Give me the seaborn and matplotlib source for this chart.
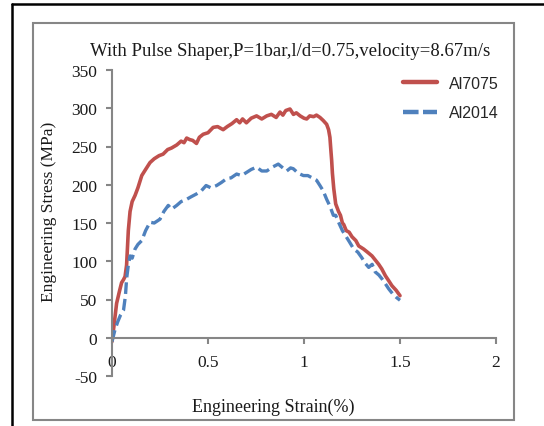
import matplotlib
matplotlib.use("Agg")
import matplotlib.pyplot as plt
import seaborn as sns
import pandas as pd
from matplotlib.lines import Line2D
from matplotlib.patches import Rectangle

# ---- data ----
al7075_strain = [0, 0.01, 0.024, 0.04, 0.05, 0.06, 0.068, 0.076, 0.085, 0.094, 0.105, 0.12, 0.135, 0.155,
                 0.175, 0.198, 0.22, 0.245, 0.266, 0.29, 0.31, 0.337, 0.36, 0.375, 0.389, 0.405, 0.42, 0.44,
                 0.455, 0.475, 0.5, 0.527, 0.55, 0.579, 0.6, 0.625, 0.649, 0.665, 0.68, 0.70, 0.725, 0.753,
                 0.78, 0.806, 0.83, 0.855, 0.875, 0.89, 0.905, 0.927, 0.945, 0.96, 0.98, 1.0, 1.014, 1.03,
                 1.05, 1.065, 1.083, 1.1, 1.118, 1.128, 1.135, 1.14, 1.144, 1.148, 1.155, 1.165, 1.18, 1.19,
                 1.2, 1.207, 1.22, 1.235, 1.25, 1.27, 1.285, 1.31, 1.33, 1.354, 1.37, 1.389, 1.405, 1.424,
                 1.44, 1.458, 1.48, 1.50]
al7075_stress = [-5, 15, 45, 62, 72, 76, 80, 95, 140, 165, 178, 186, 196, 212,
                 220, 229, 234, 238, 240, 246, 248, 252, 257, 255, 261, 259, 258, 254,
                 262, 266, 268, 275, 276, 272, 276, 280, 285, 281, 286, 281, 287, 290,
                 286, 290, 292, 288, 295, 291, 297, 299, 292, 294, 290, 287, 286, 290,
                 289, 291, 288, 284, 279, 272, 262, 245, 232, 215, 195, 175, 165, 160,
                 150, 148, 140, 138, 132, 127, 120, 116, 112, 107, 102, 96, 90, 81,
                 75, 68, 62, 55]

al2014_strain = [0, 0.015, 0.03, 0.045, 0.06, 0.07, 0.076, 0.085, 0.094, 0.105, 0.12, 0.135, 0.155, 0.175,
                 0.198, 0.22, 0.25, 0.27, 0.293, 0.31, 0.337, 0.36, 0.389, 0.41, 0.44, 0.465, 0.49, 0.515,
                 0.545, 0.57, 0.597, 0.62, 0.649, 0.675, 0.70, 0.725, 0.753, 0.78, 0.806, 0.835, 0.866,
                 0.89, 0.91, 0.93, 0.944, 0.97, 0.997, 1.02, 1.05, 1.065, 1.083, 1.1, 1.118, 1.135, 1.153,
                 1.165, 1.18, 1.2, 1.215, 1.235, 1.259, 1.28, 1.30, 1.32, 1.337, 1.355, 1.371, 1.39, 1.406,
                 1.42, 1.441, 1.46, 1.48, 1.50]
al2014_stress = [-5, 10, 21, 30, 36, 55, 77, 95, 107, 104, 116, 122, 127, 140,
                 151, 150, 155, 165, 173, 168, 173, 178, 181, 184, 188, 192, 199, 196,
                 199, 203, 208, 209, 214, 212, 216, 220, 223, 218, 218, 223, 227,
                 222, 218, 222, 221, 215, 212, 212, 208, 206, 199, 192, 181, 172, 160,
                 160, 151, 140, 134, 126, 116, 112, 105, 97, 92, 96, 86, 82, 77,
                 72, 64, 58, 53, 49]

series_names = ["Al7075", "Al2014"]
title_text = "With Pulse Shaper,P=1bar,l/d=0.75,velocity=8.67m/s"
x_label = "Engineering Strain(%)"
y_label = "Engineering Stress (MPa)"
x_ticks = [0, 0.5, 1, 1.5, 2]
x_tick_labels = ["0", "0.5", "1", "1.5", "2"]
y_ticks = [-50, 0, 50, 100, 150, 200, 250, 300, 350]
y_tick_labels = ["-50", "0", "50", "100", "150", "200", "250", "300", "350"]

RED = "#C0504D"
BLUE = "#4F81BD"
GRAY = "#868686"
TXT = "#1a1a1a"

sns.set_style("white")
plt.rcParams["font.family"] = ["Liberation Serif", "DejaVu Serif"]
plt.rcParams["axes.unicode_minus"] = False

W, H = 544, 427
fig = plt.figure(figsize=(W / 100, H / 100), dpi=100)

def fx(px):
    return px / W

def fy(py):
    return 1 - py / H

ax = fig.add_axes([fx(112), fy(377), (496 - 112) / W, (377 - 71) / H])
ax.set_facecolor("none")

df7075 = pd.DataFrame({"strain": al7075_strain, "stress": al7075_stress})
df2014 = pd.DataFrame({"strain": al2014_strain, "stress": al2014_stress})

sns.lineplot(data=df7075, x="strain", y="stress", ax=ax, color=RED, lw=2.6,
             sort=False, estimator=None)
sns.lineplot(data=df2014, x="strain", y="stress", ax=ax, color=BLUE, lw=2.4,
             sort=False, estimator=None, dashes=False)
ax.lines[1].set_dashes((3.5, 1.5))
ax.lines[1].set_dash_capstyle("butt")

ax.set_xlim(0, 2)
ax.set_ylim(-50, 350)
ax.set_xticks(x_ticks)
ax.set_xticklabels(x_tick_labels)
ax.set_yticks(y_ticks)
ax.set_yticklabels(y_tick_labels)

for s in ["top", "right"]:
    ax.spines[s].set_visible(False)
ax.spines["bottom"].set_position(("data", 0))
for s in ["left", "bottom"]:
    ax.spines[s].set_color(GRAY)
    ax.spines[s].set_linewidth(1.5)
ax.tick_params(axis="both", direction="out", length=4.5, width=1.5, color=GRAY,
               labelsize=12.5, labelcolor=TXT)
ax.tick_params(axis="x", pad=7, bottom=True)
ax.tick_params(axis="y", pad=6, left=True)

ax.set_xlabel(x_label, fontsize=13, color=TXT)
ax.set_ylabel(y_label, fontsize=12.5, color=TXT)
ax.xaxis.set_label_coords((273 - 112) / 384, (377 - 399) / 306)
ax.yaxis.set_label_coords((57 - 112) / 384, (377 - 212) / 306)

fig.text(fx(290), fy(51), title_text, ha="center", va="center", fontsize=13.5, color=TXT)

handles = [Line2D([], [], color=RED, lw=3.2),
           Line2D([], [], color=BLUE, lw=3.2, dashes=(3.5, 1.0))]
leg = fig.legend(handles, series_names, loc="center left",
                 bbox_to_anchor=(fx(403), fy(99)), frameon=False,
                 prop={"family": "Liberation Sans", "size": 11.5},
                 handlelength=2.1, handletextpad=0.75, labelspacing=0.93,
                 borderaxespad=0, borderpad=0)

# gray chart border and black page lines
fig.add_artist(Rectangle((fx(33), fy(421)), (514 - 33) / W, (421 - 24) / H,
                         transform=fig.transFigure, fill=False, edgecolor=GRAY, lw=1.5))
fig.add_artist(Line2D([fx(12), 1.0], [fy(5), fy(5)], transform=fig.transFigure,
                      color="black", lw=1.8))
fig.add_artist(Line2D([fx(12), fx(12)], [fy(5), 0.0], transform=fig.transFigure,
                      color="black", lw=1.8))

fig.savefig("out.png", dpi=100)
